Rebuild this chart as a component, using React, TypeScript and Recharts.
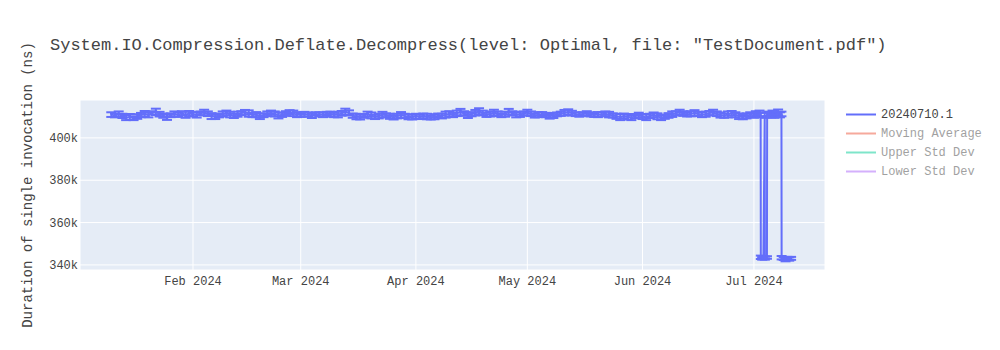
import React from "react";
import {
  ComposedChart,
  Line,
  ErrorBar,
  XAxis,
  YAxis,
  CartesianGrid,
} from "recharts";

const FONT = "'Liberation Mono', 'Courier New', monospace";
const DAY = 24 * 3600 * 1000;

// daily values (k ns), Jan 10 .. Jun 30 2024
const janVals = [411.0, 410.6, 411.2, 410.4, 409.6, 409.9, 409.3, 410.1, 410.8, 411.4, 410.9, 411.8, 412.3, 411.2, 410.5, 409.8, 410.7, 411.3, 411.0, 411.6, 410.9, 411.5];
const febVals = [411.2, 410.8, 411.6, 412.0, 411.4, 410.3, 409.9, 410.6, 411.3, 411.8, 411.0, 410.4, 411.2, 411.7, 412.1, 411.5, 410.8, 411.0, 410.2, 410.7, 411.4, 411.9, 411.3, 410.6, 410.9, 411.5, 412.2, 411.6, 411.0];
const marVals = [410.8, 411.2, 411.0, 410.6, 411.3, 411.1, 410.9, 411.4, 411.2, 410.8, 411.0, 411.6, 412.4, 411.8, 410.5, 410.1, 409.8, 410.4, 411.2, 410.6, 409.9, 410.3, 411.0, 410.7, 410.2, 409.7, 410.3, 410.9, 410.4, 410.0, 409.8];
const aprVals = [410.2, 409.9, 410.4, 410.1, 409.6, 410.0, 410.5, 410.3, 411.0, 411.4, 410.8, 411.6, 412.2, 411.5, 410.6, 411.2, 411.9, 412.6, 411.8, 410.9, 411.3, 412.0, 411.4, 410.7, 411.2, 412.3, 411.6, 410.8, 411.1, 411.5];
const mayVals = [412.0, 411.4, 410.6, 411.0, 411.3, 410.8, 410.2, 410.6, 411.1, 411.4, 411.9, 412.3, 411.7, 411.2, 411.0, 411.3, 411.5, 411.1, 410.8, 411.0, 411.2, 411.4, 411.0, 410.6, 410.2, 409.8, 410.4, 410.0, 409.6, 410.3, 410.8];
const junVals = [410.1, 409.7, 410.4, 410.9, 410.2, 409.6, 410.0, 410.6, 411.2, 411.6, 412.1, 411.5, 411.0, 411.4, 411.8, 411.3, 410.9, 411.2, 411.7, 412.0, 411.4, 410.8, 410.5, 411.1, 411.6, 410.9, 410.2, 409.8, 410.4, 411.0];

const janErr = [1.1, 0.9, 1.3, 1.0, 1.2, 1.4, 0.9, 1.1, 1.0, 1.3, 1.2, 0.8, 1.5, 1.1, 1.0, 1.3, 0.9, 1.2, 1.1, 1.0, 1.4, 1.2];
const febErr = [1.0, 1.2, 0.9, 1.3, 1.1, 1.4, 1.0, 0.9, 1.2, 1.1, 1.3, 1.0, 1.2, 0.9, 1.1, 1.5, 1.0, 1.2, 1.3, 0.9, 1.1, 1.0, 1.2, 1.4, 1.0, 1.1, 0.9, 1.3, 1.2];
const marErr = [0.9, 1.1, 1.0, 1.2, 0.8, 1.0, 1.1, 0.9, 1.2, 1.0, 1.3, 1.1, 1.4, 1.2, 1.0, 1.3, 1.1, 0.9, 1.2, 1.4, 1.0, 1.1, 1.3, 0.9, 1.2, 1.0, 1.1, 1.3, 1.0, 1.2, 1.1];
const aprErr = [1.2, 1.0, 1.1, 1.3, 0.9, 1.2, 1.0, 1.1, 1.4, 1.2, 1.0, 1.3, 1.5, 1.1, 1.2, 1.0, 1.3, 1.4, 1.1, 1.0, 1.2, 1.3, 1.1, 0.9, 1.2, 1.4, 1.0, 1.1, 1.2, 1.0];
const mayErr = [1.3, 1.1, 1.0, 1.2, 0.9, 1.0, 1.1, 1.2, 0.9, 1.0, 1.3, 1.2, 1.1, 0.9, 1.0, 0.8, 1.1, 1.0, 0.9, 1.2, 1.0, 1.1, 1.3, 1.0, 1.2, 1.4, 1.1, 1.3, 1.2, 1.0, 1.1];
const junErr = [1.2, 1.3, 1.0, 1.1, 1.4, 1.2, 1.0, 1.1, 1.3, 1.0, 1.2, 1.1, 0.9, 1.2, 1.3, 1.0, 1.1, 1.2, 1.0, 1.3, 1.1, 1.2, 1.0, 1.4, 1.1, 1.2, 1.3, 1.0, 1.2, 1.1];

// July runs (day of month, can be fractional)
const julDays = [1, 1.5, 2, 2.5, 2.8, 2.85, 3.2, 3.55, 3.9, 3.95, 4.5, 4.55, 5, 5.5, 6, 6.5, 7, 7.5, 8, 8.4, 8.45, 9, 9.5, 10, 10.5, 11];
const julVals = [410.6, 411.4, 410.8, 411.6, 410.9, 343.6, 343.1, 343.4, 410.7, 343.2, 343.5, 410.9, 411.4, 410.8, 411.6, 410.6, 411.2, 412.0, 410.9, 411.3, 343.4, 343.0, 342.6, 343.2, 342.8, 343.1];
const julErr = [1.1, 1.2, 1.0, 1.3, 1.1, 0.8, 0.6, 0.7, 1.2, 0.7, 0.6, 1.1, 1.0, 1.2, 1.3, 1.1, 1.0, 1.4, 1.2, 1.1, 0.8, 0.7, 0.9, 0.6, 0.8, 0.7];

const monthNames = ["Jan", "Feb", "Mar", "Apr", "May", "Jun", "Jul", "Aug", "Sep", "Oct", "Nov", "Dec"];
const xTicks = [1, 2, 3, 4, 5, 6].map((m) => Date.UTC(2024, m, 1));
const yTicks = [340000, 360000, 380000, 400000];

const legendItems = [
  { name: "20240710.1", color: "#636efa", active: true },
  { name: "Moving Average", color: "#EF553B", active: false },
  { name: "Upper Std Dev", color: "#00cc96", active: false },
  { name: "Lower Std Dev", color: "#ab63fa", active: false },
];

function buildData() {
  const vals = [...janVals, ...febVals, ...marVals, ...aprVals, ...mayVals, ...junVals];
  const errs = [...janErr, ...febErr, ...marErr, ...aprErr, ...mayErr, ...junErr];
  const start = Date.UTC(2024, 0, 10);
  const rows = vals.map((v, i) => ({ t: start + i * DAY, v: v * 1000, err: errs[i] * 1000 }));
  const jul = Date.UTC(2024, 6, 1);
  julDays.forEach((d, i) => {
    rows.push({ t: jul + (d - 1) * DAY, v: julVals[i] * 1000, err: julErr[i] * 1000 });
  });
  return rows;
}

const data = buildData();

function ChartLegend() {
  return (
    <div style={{ position: "absolute", left: 844, top: 105, fontSize: 12 }}>
      {legendItems.map((it) => (
        <div key={it.name} style={{ display: "flex", alignItems: "center", height: 19 }}>
          <svg width={37} height={19}>
            <line x1={2} y1={9.5} x2={32} y2={9.5} stroke={it.color} strokeWidth={2} opacity={it.active ? 1 : 0.5} />
          </svg>
          <span style={{ color: "#444", opacity: it.active ? 1 : 0.5, whiteSpace: "pre" }}>{it.name}</span>
        </div>
      ))}
    </div>
  );
}

export default function App() {
  return (
    <div style={{ position: "absolute", left: 0, top: 0, width: 1000, height: 350, background: "#fff", fontFamily: FONT }}>
      <div style={{ position: "absolute", left: 50, top: 36, fontSize: 17, lineHeight: "20px", color: "#444", whiteSpace: "pre" }}>
        System.IO.Compression.Deflate.Decompress(level: Optimal, file: "TestDocument.pdf")
      </div>
      <div
        style={{
          position: "absolute",
          left: 28 - 160,
          top: 185 - 10,
          width: 320,
          height: 20,
          lineHeight: "20px",
          textAlign: "center",
          fontSize: 14,
          color: "#444",
          transform: "rotate(-90deg)",
          whiteSpace: "pre",
        }}
      >
        Duration of single invocation (ns)
      </div>
      <ComposedChart width={1000} height={350} data={data} margin={{ top: 100, right: 175, bottom: 50, left: 0 }}>
        <CartesianGrid fill="#E5ECF6" stroke="#ffffff" strokeWidth={1} />
        <XAxis
          dataKey="t"
          type="number"
          scale="time"
          domain={[Date.UTC(2024, 0, 1, 14), Date.UTC(2024, 6, 20, 3)]}
          ticks={xTicks}
          tickFormatter={(v) => {
            const d = new Date(v);
            return `${monthNames[d.getUTCMonth()]} ${d.getUTCFullYear()}`;
          }}
          allowDataOverflow
          axisLine={false}
          tickLine={false}
          tickSize={0}
          tickMargin={6}
          height={30}
          tick={{ fill: "#444", fontSize: 12, fontFamily: FONT }}
        />
        <YAxis
          type="number"
          domain={[337600, 417900]}
          ticks={yTicks}
          allowDataOverflow
          tickFormatter={(v) => `${v / 1000}k`}
          axisLine={false}
          tickLine={false}
          tickSize={0}
          tickMargin={2}
          width={80}
          tick={{ fill: "#444", fontSize: 12, fontFamily: FONT }}
        />
        <Line
          dataKey="v"
          stroke="#636efa"
          strokeWidth={2}
          dot={false}
          isAnimationActive={false}
        >
          <ErrorBar dataKey="err" direction="y" width={5} stroke="#636efa" strokeWidth={2} isAnimationActive={false} />
        </Line>
      </ComposedChart>
      <ChartLegend />
    </div>
  );
}
